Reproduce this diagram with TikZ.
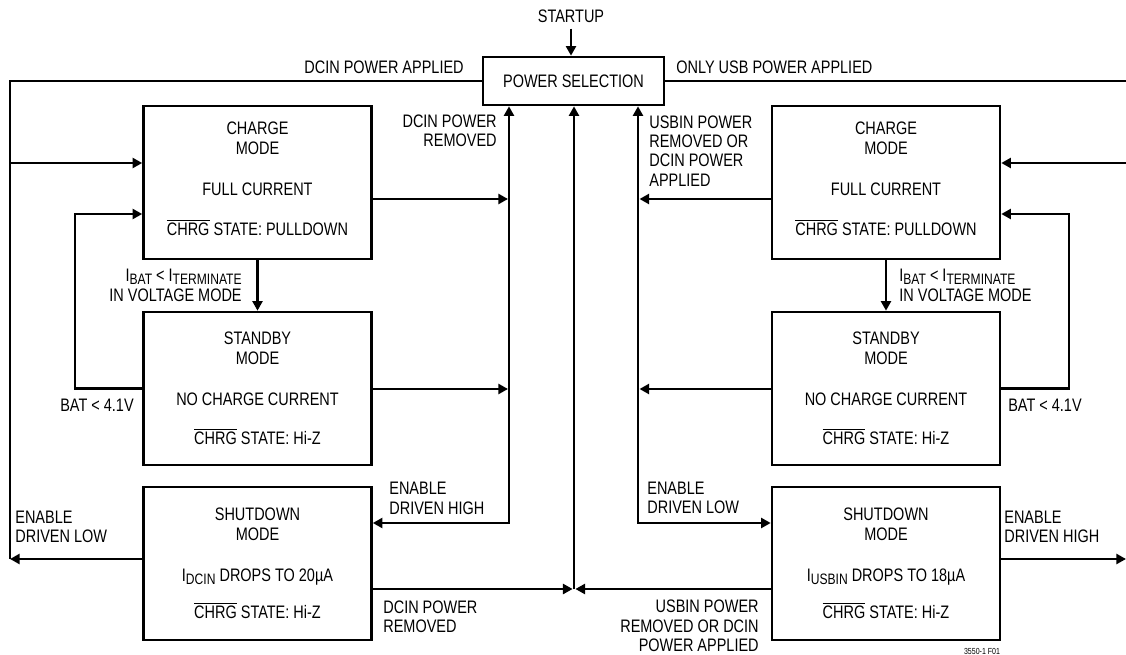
\documentclass[tikz,border=0pt]{standalone}
\usepackage{fontspec}
\setmainfont[FakeStretch=0.8]{Liberation Sans}
\usetikzlibrary{arrows.meta}
\newcommand{\lowtxt}[1]{\raisebox{-0.35ex}{\fontsize{8.6}{9}\selectfont #1}}
\newcommand{\barsig}[1]{$\overline{\mbox{#1}}$}

\tikzset{
  modebox/.style={draw, line width=1.5pt, minimum width=4.56cm, minimum height=3.06cm, align=center, inner sep=0pt, font=\fontsize{10.3}{11.5}\selectfont},
  lbl/.style={inner sep=0pt, align=left},
  wire/.style={line width=1.5pt},
  flow/.style={line width=1.5pt, -{Triangle[length=5.5pt,width=5.7pt]}},
  bothflow/.style={line width=1.5pt, {Triangle[length=5.5pt,width=5.7pt]}-{Triangle[length=5.5pt,width=5.7pt]}},
}

\begin{document}
\begin{tikzpicture}[x=0.02cm, y=-0.02cm, font=\fontsize{10.3}{11}\selectfont]
    \useasboundingbox (0,0) rectangle (1126,655);

    % Power selection
    \node[draw, line width=1.5pt, minimum width=3.62cm, minimum height=0.96cm, inner sep=0pt] (psel) at (573.5,81) {POWER SELECTION};
    \node[inner sep=0pt] (start) at (571,16) {STARTUP};
    \draw[flow] ([yshift=-3.4pt]start.south) -- (start.south |- psel.north);

    % Mode boxes, DCIN side
    \node[modebox] (chgL) at (257.5,182.5) {CHARGE\\MODE\\[11.5pt]FULL CURRENT\\[11.5pt]\barsig{CHRG} STATE: PULLDOWN\\[-7.5pt]};
    \node[modebox] (stbL) at (257.5,388.5) {STANDBY\\MODE\\[11.5pt]NO CHARGE CURRENT\\[11pt]\barsig{CHRG} STATE: Hi-Z};
    \node[modebox] (shdL) at (257.5,563.5) {SHUTDOWN\\MODE\\[11.5pt]I\lowtxt{DCIN} DROPS TO 20µA\\[10pt]\barsig{CHRG} STATE: Hi-Z};

    % Mode boxes, USB side
    \node[modebox] (chgR) at (886,182.5) {CHARGE\\MODE\\[11.5pt]FULL CURRENT\\[11.5pt]\barsig{CHRG} STATE: PULLDOWN\\[-7.5pt]};
    \node[modebox] (stbR) at (886,388.5) {STANDBY\\MODE\\[11.5pt]NO CHARGE CURRENT\\[11pt]\barsig{CHRG} STATE: Hi-Z};
    \node[modebox] (shdR) at (886,563.5) {SHUTDOWN\\MODE\\[11.5pt]I\lowtxt{USBIN} DROPS TO 18µA\\[10pt]\barsig{CHRG} STATE: Hi-Z};

    % Corner points
    \coordinate (ltop) at (10,80);
    \coordinate (lbot) at (10,559);
    \coordinate (lin1) at (10,163);
    \coordinate (rtop) at (1126,80);
    \coordinate (rbot) at (1126,559);
    \coordinate (rin1) at (1126,163);
    \coordinate (loopL) at (75,214);
    \coordinate (loopR) at (1069,214);
    \coordinate (dcr) at (509,523);
    \coordinate (usr) at (638,523);
    \coordinate (cen) at (574,589);
    \coordinate (dcin1) at (508,199);
    \coordinate (dcin2) at (508,389);
    \coordinate (usb1) at (639.5,199);
    \coordinate (usb2) at (639.5,389);

    % DCIN side connectors
    \draw[wire] (psel.west) -- (psel.west -| ltop) -- (lbot);
    \draw[flow] (lin1) -- (lin1 -| chgL.west);
    \draw[flow] (shdL.west |- lbot) -- (lbot);
    \draw[flow] (chgL.south) -- (stbL.north);
    \draw[flow] (stbL.west) -- (stbL.west -| loopL) -- (loopL) -- (loopL -| chgL.west);
    \draw[bothflow] (dcr |- psel.south) -- (dcr) -- (dcr -| shdL.east);
    \draw[flow] (dcin1 -| chgL.east) -- (dcin1);
    \draw[flow] (dcin2 -| stbL.east) -- (dcin2);

    % middle
    \draw[flow] (cen) -- (cen |- psel.south);
    \draw[flow] (shdL.east |- cen) -- ([xshift=-0.8pt]cen);
    \draw[flow] (shdR.west |- cen) -- ([xshift=0.8pt]cen);

    % USB side connectors
    \draw[wire] (psel.east) -- (psel.east -| rtop);
    \draw[flow] (rin1) -- (rin1 -| chgR.east);
    \draw[flow] (shdR.east |- rbot) -- (rbot);
    \draw[flow] (chgR.south) -- (stbR.north);
    \draw[flow] (stbR.east) -- (stbR.east -| loopR) -- (loopR) -- (loopR -| chgR.east);
    \draw[bothflow] (usr |- psel.south) -- (usr) -- (usr -| shdR.west);
    \draw[flow] (usb1 -| chgR.west) -- (usb1);
    \draw[flow] (usb2 -| stbR.west) -- (usb2);

    % Labels
    \node[lbl, anchor=east] (tapL) at (464,67) {DCIN POWER APPLIED};
    \node[lbl, anchor=west] (tapR) at (676,67) {ONLY USB POWER APPLIED};
    \node[lbl, anchor=east, align=right] (tremL) at (497,130.5) {DCIN POWER\\REMOVED};
    \node[lbl, anchor=west] (tremR) at (649,151) {USBIN POWER\\REMOVED OR\\DCIN POWER\\APPLIED};
    \node[lbl, anchor=east, align=right] (ttrmL) at (242,285) {I\lowtxt{BAT} < I\lowtxt{TERMINATE}\\[0.5pt]IN VOLTAGE MODE};
    \node[lbl, anchor=west] (ttrmR) at (899,285) {I\lowtxt{BAT} < I\lowtxt{TERMINATE}\\[0.5pt]IN VOLTAGE MODE};
    \node[lbl] (tbatL) at (97,405) {BAT < 4.1V};
    \node[lbl] (tbatR) at (1045,405) {BAT < 4.1V};
    \node[lbl, anchor=west] (tenhL) at (389,498.5) {ENABLE\\DRIVEN HIGH};
    \node[lbl, anchor=west] (tenlL) at (15,527) {ENABLE\\DRIVEN LOW};
    \node[lbl, anchor=west] (tdrmL) at (383,616.5) {DCIN POWER\\REMOVED};
    \node[lbl, anchor=west] (tenlR) at (647,498) {ENABLE\\DRIVEN LOW};
    \node[lbl, anchor=west] (tenhR) at (1004,527) {ENABLE\\DRIVEN HIGH};
    \node[lbl, anchor=east, align=right] (tdrmR) at (759,626) {USBIN POWER\\REMOVED OR DCIN\\POWER APPLIED};
    \node[inner sep=0pt, font=\fontsize{5}{6}\selectfont] (fig) at (982,651) {3550-1 F01};
\end{tikzpicture}
\end{document}
